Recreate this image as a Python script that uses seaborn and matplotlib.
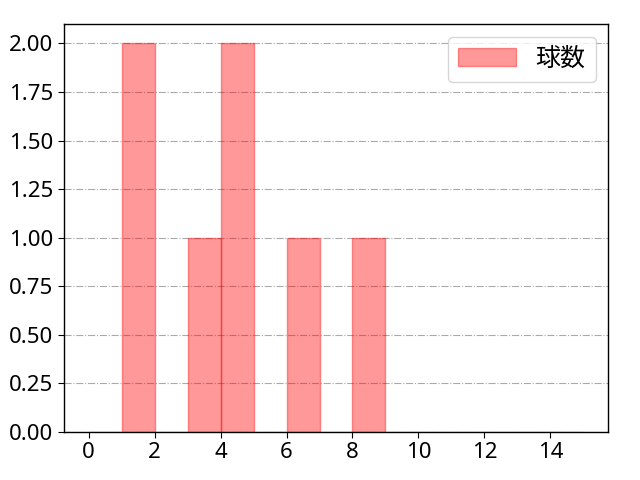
import matplotlib
matplotlib.use('Agg')
import matplotlib.pyplot as plt
import seaborn as sns

# 球数 per pitch
pitch_counts = [1, 1, 3, 4, 4, 6, 8]
bin_edges = list(range(0, 16))
x_ticks = [0, 2, 4, 6, 8, 10, 12, 14]
y_ticks = [0, 0.25, 0.5, 0.75, 1.0, 1.25, 1.5, 1.75, 2.0]

sns.set_style('white')
plt.rcParams['font.family'] = ['Noto Sans', 'Noto Sans CJK JP', 'DejaVu Sans']
plt.rcParams['text.color'] = 'black'
plt.rcParams['xtick.color'] = 'black'
plt.rcParams['ytick.color'] = 'black'

fig, ax = plt.subplots(figsize=(6.4, 4.8), dpi=100)
sns.histplot(x=pitch_counts, bins=bin_edges, color='red', alpha=0.4,
             edgecolor=(1, 0, 0, 0.4), linewidth=1, label='球数', ax=ax)

for sp in ax.spines.values():
    sp.set_color('black')
    sp.set_linewidth(1)
ax.tick_params(axis='both', labelsize=16, direction='out', length=4,
               left=True, bottom=True, color='black', labelcolor='black')
ax.set_xticks(x_ticks)
ax.set_yticks(y_ticks)
ax.yaxis.set_major_formatter(plt.FormatStrFormatter('%.2f'))
ax.set_xlim(-0.75, 15.75)
ax.set_ylim(0, 2.1)
ax.set_xlabel('')
ax.set_ylabel('')
ax.grid(axis='y', linestyle='-.', color='#aaaaaa', linewidth=0.8)
ax.set_axisbelow(True)
leg = ax.legend(loc='upper right', fontsize=18, handlelength=2.3)
for t in leg.get_texts():
    t.set_color('black')

plt.subplots_adjust(left=0.1, right=0.95, top=0.95, bottom=0.1)
plt.savefig('out.png', dpi=100)
